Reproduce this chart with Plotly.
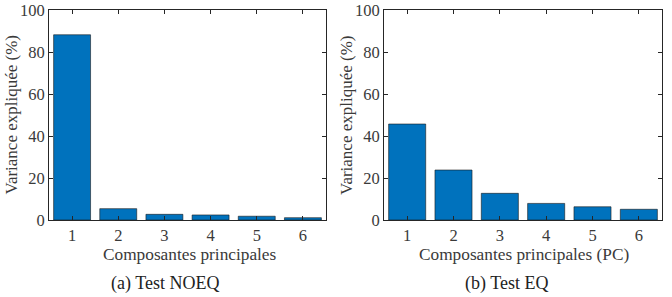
import plotly.graph_objects as go

components = [1, 2, 3, 4, 5, 6]
noeq_variance = [88.2, 5.4, 2.7, 2.4, 1.8, 1.1]
eq_variance = [45.7, 23.8, 12.7, 7.9, 6.3, 5.1]
y_ticks = [0, 20, 40, 60, 80, 100]

W, H = 672, 297
FONT = "Liberation Serif"
TXT = "#3a3a3a"
BAR = "#0072BD"

fig = go.Figure()
fig.add_trace(go.Bar(x=components, y=noeq_variance, xaxis="x", yaxis="y",
                     marker=dict(color=BAR, line=dict(color="#1a1a1a", width=0.6)),
                     width=0.8, showlegend=False))
fig.add_trace(go.Bar(x=components, y=eq_variance, xaxis="x2", yaxis="y2",
                     marker=dict(color=BAR, line=dict(color="#1a1a1a", width=0.6)),
                     width=0.8, showlegend=False))

def xax(dom, anchor):
    return dict(domain=dom, anchor=anchor, range=[0.5, 6.5], tickvals=components,
                ticks="inside", ticklen=4, tickcolor="#262626", showline=True,
                linecolor="#262626", linewidth=1, mirror="ticks", showgrid=False,
                zeroline=False, automargin=False,
                tickfont=dict(family=FONT, size=16.5, color=TXT))

def yax(dom, anchor):
    return dict(domain=dom, anchor=anchor, range=[0, 100], tickvals=y_ticks,
                ticks="inside", ticklen=4, tickcolor="#262626", showline=True,
                linecolor="#262626", linewidth=1, mirror="ticks", showgrid=False,
                zeroline=False, automargin=False,
                tickfont=dict(family=FONT, size=16.5, color=TXT))

ydom = [1 - 220 / H, 1 - 10 / H]
fig.update_layout(
    width=W, height=H, margin=dict(l=0, r=0, t=0, b=0, autoexpand=False),
    paper_bgcolor="white", plot_bgcolor="white",
    xaxis=xax([49 / W, 326 / W], "y"),
    yaxis=yax(ydom, "x"),
    xaxis2=xax([384 / W, 662 / W], "y2"),
    yaxis2=yax(ydom, "x2"),
    bargap=0.2,
)

def ann(text, x, y, size, rot=0, color=TXT):
    fig.add_annotation(text=text, x=x / W, y=1 - y / H, xref="paper", yref="paper",
                       showarrow=False, textangle=rot, xanchor="center", yanchor="middle",
                       font=dict(family=FONT, size=size, color=color))

ann("Composantes principales", 189.5, 254, 17.3)
ann("Composantes principales (PC)", 524, 254, 17.3)
ann("Variance expliquée (%)", 10.5, 115, 17, rot=-90)
ann("Variance expliquée (%)", 346, 115, 17, rot=-90)
ann("(a) Test NOEQ", 165, 283, 18, color="#222222")
ann("(b) Test EQ", 506, 283, 18, color="#222222")

fig.write_html("out.html")
